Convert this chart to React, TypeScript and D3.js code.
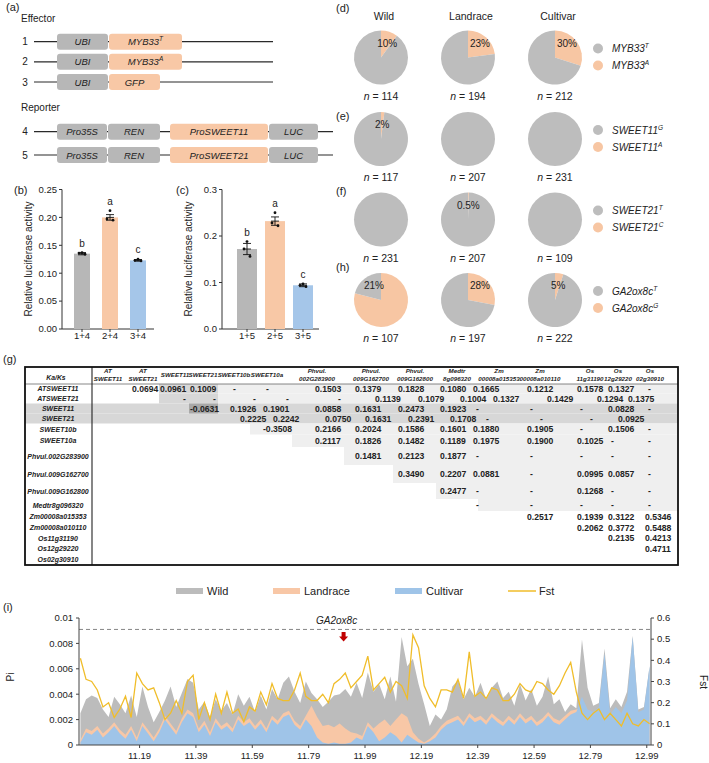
import React from "react";
import * as d3 from "d3";

const FONT = "'Liberation Sans', Arial, Helvetica, sans-serif";
const GRAY_BOX = "#b7b7b7";
const PEACH = "#f8c8a6";
const BLUE = "#a5c6e9";
const PIE_GRAY = "#bdbdbd";
const PIE_PEACH = "#f7c6a3";
const TXT = "#222";

// ---------- (a) constructs
const effectorNums = ["1", "2", "3"];
const effectorGenes = ["MYB33", "MYB33", "GFP"];
const effectorSups = ["T", "A", ""];
const reporterNums = ["4", "5"];
const reporterPromoters = ["ProSWEET11", "ProSWEET21"];

// ---------- (b) luciferase, reporter SWEET11
const bGroups = ["1+4", "2+4", "3+4"];
const bMeans = [0.135, 0.2, 0.123];
const bErr = [0.002, 0.005, 0.0015];
const bDots = [[0.137, 0.136, 0.134], [0.212, 0.197, 0.195], [0.125, 0.123, 0.122]];
const bLetters = ["b", "a", "c"];
const bTicks = [0, 0.05, 0.1, 0.15, 0.2, 0.25];

// ---------- (c) luciferase, reporter SWEET21
const cGroups = ["1+5", "2+5", "3+5"];
const cMeans = [0.172, 0.232, 0.094];
const cErr = [0.012, 0.009, 0.003];
const cDots = [[0.188, 0.172, 0.156], [0.25, 0.228, 0.222], [0.097, 0.094, 0.091]];
const cLetters = ["b", "a", "c"];
const cTicks = [0, 0.1, 0.2, 0.3];

// ---------- (d)(e)(f)(h) pies
const pieGroups = ["Wild", "Landrace", "Cultivar"];
const piePanelLabels = ["(d)", "(e)", "(f)", "(h)"];
const pieGenes = ["MYB33", "SWEET11", "SWEET21", "GA2ox8c"];
const pieAlleleMajor = ["T", "G", "T", "T"];
const pieAlleleMinor = ["A", "A", "C", "G"];
const pieMinorShare = [
  [0.1, 0.23, 0.3],
  [0.02, 0, 0],
  [0, 0.005, 0],
  [0.79, 0.28, 0.05],
];
const piePercentLabels = [
  ["10%", "23%", "30%"],
  ["2%", "", ""],
  ["", "0.5%", ""],
  ["21%", "28%", "5%"],
];
const pieN = [
  [114, 194, 212],
  [117, 207, 231],
  [231, 207, 109],
  [107, 197, 222],
];

// ---------- (g) Ka/Ks table
const kaksRows = [
  "ATSWEET11", "ATSWEET21", "SWEET11", "SWEET21", "SWEET10b", "SWEET10a",
  "Phvul.002G283900", "Phvul.009G162700", "Phvul.009G162800", "Medtr8g096320",
  "Zm00008a015353", "Zm00008a010110", "Os11g31190", "Os12g29220", "Os02g30910",
];
const kaksColTop = ["AT", "AT", "", "", "", "", "Phvul.", "Phvul.", "Phvul.", "Medtr", "Zm", "Zm", "Os", "Os", "Os"];
const kaksColBottom = [
  "SWEET11", "SWEET21", "SWEET11", "SWEET21", "SWEET10b", "SWEET10a",
  "002G283900", "009G162700", "009G162800", "8g096320", "00008a015353",
  "00008a010110", "11g31190", "12g29220", "02g30910",
];
// each row starts at column (rowIndex + 1)
const kaksValues = [
  ["0.0694", "0.0961", "0.1009", "-", "-", "0.1503", "0.1379", "0.1828", "0.1080", "0.1665", "0.1212", "0.1578", "0.1327", "-"],
  ["-", "-", "-", "-", "-", "0.1139", "0.1079", "0.1004", "0.1327", "0.1429", "0.1294", "0.1375", ""],
  ["-0.0631", "0.1926", "0.1901", "0.0858", "0.1631", "0.2473", "0.1923", "-", "-", "-", "0.0828", "-"],
  ["0.2225", "0.2242", "0.0750", "0.1631", "0.2391", "0.1708", "-", "-", "-", "0.0925", ""],
  ["-0.3508", "0.2166", "0.2024", "0.1586", "0.1601", "0.1880", "0.1905", "-", "0.1506", "-"],
  ["0.2117", "0.1826", "0.1482", "0.1189", "0.1975", "0.1900", "0.1025", "-", "-"],
  ["0.1481", "0.2123", "0.1877", "-", "-", "-", "-", "-"],
  ["0.3490", "0.2207", "0.0881", "-", "0.0995", "0.0857", "-"],
  ["0.2477", "-", "-", "0.1268", "-", "-"],
  ["-", "-", "-", "-", "-"],
  ["0.2517", "0.1939", "0.3122", "0.5346"],
  ["0.2062", "0.3772", "0.5488"],
  ["0.2135", "0.4213"],
  ["0.4711"],
  [],
];

// ---------- (i) nucleotide diversity and Fst along chromosome (Mb)
const piWindowStart = 10.98;
const piWindowStep = 0.02;
const wildPiE3 = [
  2.5, 3.6, 3.9, 3.7, 2.8, 2.2, 3.8, 3.2, 2.5, 3.9,
  2.2, 4.6, 3.0, 1.8, 2.6, 3.5, 4.6, 3.0, 4.1, 5.2,
  4.9, 2.8, 3.4, 2.2, 3.6, 2.7, 3.3, 2.4, 4.0, 3.1,
  3.8, 2.6, 3.9, 2.8, 4.4, 3.6, 4.9, 5.4, 4.2, 3.3,
  5.0, 4.1, 3.6, 3.0, 3.4, 3.9, 4.0, 4.4, 3.8, 4.9,
  3.7, 5.7, 4.2, 4.8, 3.6, 5.4, 3.4, 8.5, 6.2, 6.8,
  4.8, 3.2, 1.5, 2.4, 2.0, 2.8, 4.6, 5.1, 3.6, 4.5,
  3.8, 4.9, 3.6, 4.5, 5.0, 3.7, 4.2, 3.1, 4.8, 3.5,
  4.4, 3.1, 3.8, 5.4, 3.2, 3.6, 2.6, 3.2, 2.9, 8.3,
  4.5, 3.1, 3.3, 7.6, 2.9, 3.6, 3.0, 4.2, 8.6, 2.8,
  3.0, 6.2,
];
const landracePiE3 = [
  0.4, 1.3, 1.1, 1.5, 0.9, 1.3, 1.8, 1.2, 0.8, 1.5,
  0.6, 1.8, 1.2, 0.6, 1.3, 2.3, 1.7, 1.1, 2.1, 2.8,
  2.5, 1.3, 1.9, 1.0, 2.1, 1.5, 1.8, 1.3, 2.3, 1.8,
  2.1, 1.5, 2.0, 1.3, 2.3, 1.9, 2.5, 2.7, 1.9, 1.5,
  2.3, 3.1, 2.2, 1.5, 1.6, 1.4, 1.7, 1.3, 1.0, 0.9,
  0.7, 1.8, 1.3, 1.7, 2.0, 1.5, 2.0, 2.5, 2.2, 1.0,
  0.5, 0.2, 0.5, 0.9, 1.5, 1.9, 2.1, 2.3, 1.8, 2.5,
  2.1, 2.3, 1.9, 2.5, 2.1, 1.8, 2.3, 1.9, 2.5, 2.0,
  2.3, 1.8, 2.1, 2.6, 2.1, 1.9, 2.3, 2.7, 2.8, 3.0,
  2.4, 2.2, 2.5, 3.0, 2.0, 2.4, 2.0, 2.5, 2.2, 1.8,
  2.0, 2.2,
];
const cultivarPiE3 = [
  0.2, 1.0, 0.8, 1.2, 0.6, 1.0, 1.5, 0.9, 0.5, 1.2,
  0.3, 1.5, 0.9, 0.3, 1.0, 2.0, 1.4, 0.8, 1.8, 2.5,
  2.2, 1.0, 1.6, 0.7, 1.8, 1.2, 1.5, 1.0, 2.0, 1.5,
  1.8, 1.2, 1.7, 1.0, 2.0, 1.6, 2.2, 2.4, 1.6, 1.2,
  2.0, 1.5, 0.6, 0.2, 0.1, 0.2, 0.1, 0.1, 0.2, 0.6,
  0.4, 1.5, 1.0, 0.3, 0.6, 1.0, 0.7, 0.2, 0.8, 0.5,
  0.2, 0.1, 0.3, 0.6, 1.2, 1.6, 1.8, 2.0, 1.5, 2.2,
  1.8, 2.0, 1.6, 2.2, 1.8, 1.5, 2.0, 1.6, 2.2, 1.7,
  2.0, 1.5, 1.8, 2.3, 1.8, 1.6, 2.0, 2.4, 2.6, 3.8,
  2.8, 2.6, 3.0, 7.2, 2.4, 3.0, 2.5, 3.5, 8.5, 2.6,
  2.8, 6.2,
];
const fstValues = [
  0.41, 0.31, 0.30, 0.26, 0.18, 0.20, 0.13, 0.17, 0.23, 0.13,
  0.34, 0.29, 0.26, 0.27, 0.20, 0.12, 0.15, 0.21, 0.15, 0.30,
  0.33, 0.12, 0.20, 0.12, 0.24, 0.15, 0.25, 0.15, 0.17, 0.11,
  0.18, 0.16, 0.25, 0.19, 0.29, 0.22, 0.21, 0.21, 0.26, 0.34,
  0.23, 0.21, 0.21, 0.24, 0.20, 0.29, 0.31, 0.34, 0.27, 0.30,
  0.33, 0.42, 0.26, 0.29, 0.32, 0.25, 0.30, 0.28, 0.22, 0.52,
  0.46, 0.28, 0.22, 0.18, 0.26, 0.26, 0.25, 0.31, 0.22, 0.44,
  0.23, 0.25, 0.22, 0.27, 0.26, 0.21, 0.21, 0.24, 0.29, 0.26,
  0.25, 0.30, 0.29, 0.26, 0.24, 0.28, 0.34, 0.39, 0.25, 0.15,
  0.12, 0.15, 0.17, 0.12, 0.15, 0.12, 0.09, 0.15, 0.10, 0.09,
  0.12, 0.10,
];
const piXTicks = [11.19, 11.39, 11.59, 11.79, 11.99, 12.19, 12.39, 12.59, 12.79, 12.99];
const piYTicksE3 = [0, 2, 4, 6, 8, 10];
const fstTicks = [0, 0.1, 0.2, 0.3, 0.4, 0.5, 0.6];
const thresholdE3 = 9.1;
const geneMarkName = "GA2ox8c";
const geneMarkPos = 11.914;
const piLegend = ["Wild", "Landrace", "Cultivar", "Fst"];

// ===================================================================

function Sup({ base, sup, supSize = 6.5 }: any) {
  return (
    <>
      {base}
      {sup ? (
        <tspan dy={-4} fontSize={supSize}>
          {sup}
        </tspan>
      ) : null}
    </>
  );
}

function GeneBox({ x, y, w, label, sup, fill }: any) {
  return (
    <g>
      <rect x={x} y={y - 8} width={w} height={16} rx={3} fill={fill} />
      <text x={x + w / 2} y={y + 3.5} textAnchor="middle" fontSize={9.5} fontStyle="italic" fill={TXT}>
        <Sup base={label} sup={sup} />
      </text>
    </g>
  );
}

function PanelA() {
  const effY = d3.scalePoint<string>().domain(effectorNums).range([41.7, 82]);
  const repY = d3.scalePoint<string>().domain(reporterNums).range([131.7, 155]);
  return (
    <g>
      <text x={6} y={11} fontSize={11} fill={TXT}>(a)</text>
      <text x={21} y={22} fontSize={10} fill={TXT}>Effector</text>
      {effectorNums.map((n, i) => {
        const y = effY(n)!;
        const gw = effectorGenes[i] === "GFP" ? 51 : 73;
        return (
          <g key={n}>
            <text x={25} y={y + 3.5} textAnchor="middle" fontSize={10} fill={TXT}>{n}</text>
            <line x1={34} x2={273} y1={y} y2={y} stroke="#2a2a2a" strokeWidth={1.2} />
            <GeneBox x={57} y={y} w={51} label="UBI" fill={GRAY_BOX} />
            <GeneBox x={109} y={y} w={gw} label={effectorGenes[i]} sup={effectorSups[i]} fill={PEACH} />
          </g>
        );
      })}
      <text x={21} y={111} fontSize={10} fill={TXT}>Reporter</text>
      {reporterNums.map((n, i) => {
        const y = repY(n)!;
        return (
          <g key={n}>
            <text x={25} y={y + 3.5} textAnchor="middle" fontSize={10} fill={TXT}>{n}</text>
            <line x1={34} x2={333} y1={y} y2={y} stroke="#2a2a2a" strokeWidth={1.2} />
            <GeneBox x={57} y={y} w={50} label="Pro35S" fill={GRAY_BOX} />
            <GeneBox x={108} y={y} w={52} label="REN" fill={GRAY_BOX} />
            <GeneBox x={170} y={y} w={98} label={reporterPromoters[i]} fill={PEACH} />
            <GeneBox x={269} y={y} w={49} label="LUC" fill={GRAY_BOX} />
          </g>
        );
      })}
    </g>
  );
}

function BarPanel({ label, labelX, axisX, groups, means, errs, dots, letters, yMax, ticks, fmt, xRange, barW, axisEnd }: any) {
  const yy = d3.scaleLinear().domain([0, yMax]).range([329, 189.5]);
  const x = d3.scalePoint<string>().domain(groups).range(xRange).padding(0.5);
  const colors = [GRAY_BOX, PEACH, BLUE];
  const jitter = [0, -3, 3];
  return (
    <g>
      <text x={labelX} y={194} fontSize={11} fill={TXT}>{label}</text>
      <line x1={axisX} x2={axisX} y1={yy(yMax)} y2={329} stroke="#333" strokeWidth={1} />
      <line x1={axisX} x2={axisEnd} y1={329} y2={329} stroke="#333" strokeWidth={1} />
      {ticks.map((t: number) => (
        <g key={t}>
          <line x1={axisX - 3} x2={axisX} y1={yy(t)} y2={yy(t)} stroke="#333" />
          <text x={axisX - 5} y={yy(t) + 3.3} textAnchor="end" fontSize={9.5} fill={TXT}>{fmt(t)}</text>
        </g>
      ))}
      <text transform={`translate(${axisX - 30},${259}) rotate(-90)`} textAnchor="middle" fontSize={10} fill={TXT}>
        Relative luciferase activity
      </text>
      {groups.map((g: string, i: number) => {
        const cx = x(g)!;
        const top = Math.max(means[i] + errs[i], ...dots[i]);
        return (
          <g key={g}>
            <rect x={cx - barW / 2} y={yy(means[i])} width={barW} height={329 - yy(means[i])} fill={colors[i]} />
            <line x1={cx} x2={cx} y1={yy(means[i] - errs[i])} y2={yy(means[i] + errs[i])} stroke="#111" strokeWidth={0.9} />
            <line x1={cx - 4} x2={cx + 4} y1={yy(means[i] + errs[i])} y2={yy(means[i] + errs[i])} stroke="#111" strokeWidth={0.9} />
            <line x1={cx - 4} x2={cx + 4} y1={yy(means[i] - errs[i])} y2={yy(means[i] - errs[i])} stroke="#111" strokeWidth={0.9} />
            <line x1={cx - 4} x2={cx + 4} y1={yy(means[i])} y2={yy(means[i])} stroke="#111" strokeWidth={0.9} />
            {dots[i].map((d: number, k: number) => (
              <circle key={k} cx={cx + jitter[k]} cy={yy(d)} r={1.4} fill="#111" />
            ))}
            <text x={cx} y={yy(top) - 6} textAnchor="middle" fontSize={10} fill={TXT}>{letters[i]}</text>
            <line x1={cx} x2={cx} y1={329} y2={332} stroke="#333" />
            <text x={cx} y={339} textAnchor="middle" fontSize={9.5} fill={TXT}>{g}</text>
          </g>
        );
      })}
    </g>
  );
}

function PiePanels() {
  const colX = d3.scalePoint<string>().domain(pieGroups).range([381, 555]);
  const rowY = [57.5, 139, 219.5, 300];
  const labelY = [12, 120, 195, 271];
  const r = 27;
  const arc = d3.arc<any>().innerRadius(0).outerRadius(r);
  const pie = d3.pie<number>().sort(null).value((d) => d);
  return (
    <g>
      {pieGroups.map((g) => (
        <text key={g} x={colX(g)! + 3} y={19.5} textAnchor="middle" fontSize={10.5} fill={TXT}>{g}</text>
      ))}
      {pieGenes.map((gene, ri) => {
        const cy = rowY[ri];
        return (
          <g key={gene}>
            <text x={336} y={labelY[ri]} fontSize={11} fill={TXT}>{piePanelLabels[ri]}</text>
            {pieGroups.map((g, ci) => {
              const cx = colX(g)!;
              const s = pieMinorShare[ri][ci];
              const arcs = pie([s, 1 - s]);
              const ang = s <= 0.5 ? Math.PI * s : Math.PI * (1 + s);
              const dx = Math.max(-7, Math.min(12, Math.sin(ang) * 20));
              return (
                <g key={g}>
                  <g transform={`translate(${cx},${cy})`}>
                    {arcs.map((a, k) =>
                      a.endAngle - a.startAngle > 0 ? (
                        <path key={k} d={arc(a) as string} fill={k === 0 ? PIE_PEACH : PIE_GRAY} />
                      ) : null
                    )}
                  </g>
                  {piePercentLabels[ri][ci] ? (
                    <text x={cx + dx} y={cy - 11} textAnchor="middle" fontSize={10} fill={TXT}>
                      {piePercentLabels[ri][ci]}
                    </text>
                  ) : null}
                  <text x={cx} y={cy + 42} textAnchor="middle" fontSize={10.5} fill={TXT}>
                    <tspan fontStyle="italic">n</tspan> = {pieN[ri][ci]}
                  </text>
                </g>
              );
            })}
            <circle cx={598} cy={cy - 9} r={5} fill={PIE_GRAY} />
            <circle cx={598} cy={cy + 8} r={5} fill={PIE_PEACH} />
            <text x={612} y={cy - 5.5} fontSize={10} fontStyle="italic" fill={TXT}>
              <Sup base={gene} sup={pieAlleleMajor[ri]} supSize={6.5} />
            </text>
            <text x={612} y={cy + 11.5} fontSize={10} fontStyle="italic" fill={TXT}>
              <Sup base={gene} sup={pieAlleleMinor[ri]} supSize={6.5} />
            </text>
          </g>
        );
      })}
    </g>
  );
}

const colEdge = [92, 125, 159, 189, 218, 250, 292, 344, 393, 436, 478, 520, 565, 604, 634, 678];
const headerCX = [108, 143, 175, 203, 234, 267, 317, 371, 415, 457, 499, 540, 590, 618, 650];
const valueX = [0, 132, 160, 190, 230, 263, 315, 355, 398, 440, 473, 527, 577, 608, 645];
const rowH = [9.5, 10, 10, 10, 11, 12.5, 18, 18, 16, 12, 11.5, 10.5, 10.5, 10.5, 11];
const rowShift = [0, 20, 0, 10, 0, 0, 0, 0, 0, 0, 0, 0, 0, 0, 0];

function KaKsTable() {
  const top = 367;
  const headBottom = 384;
  const left = 25;
  const right = 678;
  const LIGHT = "#efefef";
  const MED = "#d7d7d7";
  const DARK = "#a8a8a8";
  const rowTops: number[] = [];
  let acc = headBottom;
  rowH.forEach((h) => {
    rowTops.push(acc);
    acc += h;
  });
  const bottom = acc;
  const bgs: any[] = [];
  kaksRows.forEach((_, i) => {
    const y = rowTops[i];
    const h = rowH[i];
    if (i <= 1) {
      bgs.push(<rect key={`m${i}`} x={colEdge[2]} y={y} width={colEdge[4] - colEdge[2]} height={h} fill={MED} />);
      bgs.push(<rect key={`l${i}`} x={colEdge[4]} y={y} width={right - colEdge[4]} height={h} fill={LIGHT} />);
    } else if (i <= 3) {
      bgs.push(<rect key={`m${i}`} x={left} y={y} width={right - left} height={h} fill={MED} />);
    } else if (i <= 9) {
      bgs.push(<rect key={`l${i}`} x={colEdge[i + 1]} y={y} width={right - colEdge[i + 1]} height={h} fill={LIGHT} />);
    }
  });
  bgs.push(<rect key="dark" x={colEdge[3]} y={rowTops[2]} width={colEdge[4] - colEdge[3]} height={rowH[2]} fill={DARK} />);

  return (
    <g>
      <text x={3} y={363} fontSize={11} fill={TXT}>(g)</text>
      {bgs}
      <line x1={left} x2={right} y1={headBottom} y2={headBottom} stroke="#555" strokeWidth={0.7} />
      <line x1={colEdge[0]} x2={colEdge[0]} y1={top} y2={bottom} stroke="#222" strokeWidth={1.1} />
      <rect x={left} y={top} width={right - left} height={bottom - top} fill="none" stroke="#111" strokeWidth={1.8} />
      <text x={56} y={380} textAnchor="middle" fontSize={6.8} fontWeight="bold" fontStyle="italic" fill={TXT}>Ka/Ks</text>
      {kaksColBottom.map((b, c) => (
        <g key={c}>
          {kaksColTop[c] ? (
            <>
              <text x={headerCX[c]} y={372.5} textAnchor="middle" fontSize={6.2} fontWeight="bold" fontStyle="italic" fill={TXT}>{kaksColTop[c]}</text>
              <text x={headerCX[c]} y={380.5} textAnchor="middle" fontSize={6.2} fontWeight="bold" fontStyle="italic" fill={TXT}>{b}</text>
            </>
          ) : (
            <text x={headerCX[c]} y={376.5} textAnchor="middle" fontSize={6.2} fontWeight="bold" fontStyle="italic" fill={TXT}>{b}</text>
          )}
        </g>
      ))}
      {kaksRows.map((name, i) => (
        <text key={name} x={58} y={rowTops[i] + rowH[i] / 2 + 2.5} textAnchor="middle" fontSize={7} fontWeight="bold" fontStyle="italic" fill={TXT}>
          {name}
        </text>
      ))}
      {kaksValues.map((vals, i) =>
        vals.map((v, k) => {
          if (!v) return null;
          const c = i + 1 + k;
          const x = valueX[c] + rowShift[i] + (v === "-" ? 3 : 0);
          return (
            <text key={`${i}-${k}`} x={x} y={rowTops[i] + rowH[i] / 2 + 3.1} fontSize={8.6} fontWeight="bold" fill={TXT}>
              {v}
            </text>
          );
        })
      )}
    </g>
  );
}

function PiPanel() {
  const x0 = 79, x1 = 651, y0 = 745, y1 = 618;
  const positions = wildPiE3.map((_, i) => piWindowStart + i * piWindowStep);
  const x = d3.scaleLinear().domain([10.975, 13.005]).range([x0, x1]);
  const yPi = d3.scaleLinear().domain([0, 10]).range([y0, y1]);
  const yF = d3.scaleLinear().domain([0, 0.6]).range([y0, y1]);
  const area = d3
    .area<number>()
    .x((_, i) => x(positions[i]))
    .y0(y0)
    .y1((d) => yPi(d));
  const line = d3
    .line<number>()
    .x((_, i) => x(positions[i]))
    .y((d) => yF(d));
  const legendX = [176, 273, 395, 508];
  const legendColors = ["#bcbcbc", "#f8c7a6", "#9fc4e8", "#f0bd2a"];
  const ax = x(geneMarkPos);
  return (
    <g>
      {piLegend.map((l, i) => (
        <g key={l}>
          {i < 3 ? (
            <rect x={legendX[i]} y={588} width={27} height={6} fill={legendColors[i]} />
          ) : (
            <line x1={legendX[i]} x2={legendX[i] + 28} y1={591} y2={591} stroke={legendColors[i]} strokeWidth={1.5} />
          )}
          <text x={legendX[i] + 31} y={595} fontSize={11} fill={TXT}>{l}</text>
        </g>
      ))}
      <text x={3} y={611} fontSize={11} fill={TXT}>(i)</text>
      <defs>
        <clipPath id="piclip">
          <rect x={x0} y={y1 - 2} width={x1 - x0} height={y0 - y1 + 2} />
        </clipPath>
      </defs>
      <g clipPath="url(#piclip)">
        <path d={area(wildPiE3) as string} fill="#bcbcbc" />
        <path d={area(landracePiE3) as string} fill="#f8c7a6" />
        <path d={area(cultivarPiE3) as string} fill="#9fc4e8" />
        <path d={line(fstValues) as string} fill="none" stroke="#f0bd2a" strokeWidth={1.3} />
      </g>
      <line x1={x0} x2={x1} y1={yPi(thresholdE3)} y2={yPi(thresholdE3)} stroke="#777" strokeWidth={0.9} strokeDasharray="4,3" />
      <text x={ax - 7} y={624} textAnchor="middle" fontSize={10} fontStyle="italic" fill={TXT}>{geneMarkName}</text>
      <rect x={ax - 2} y={632} width={4} height={5} fill="#c00000" />
      <path d={`M${ax - 4.5},636.5 L${ax + 4.5},636.5 L${ax},641.5 Z`} fill="#c00000" />
      <line x1={x0} x2={x0} y1={y1} y2={y0} stroke="#444" />
      <line x1={x1} x2={x1} y1={y1} y2={y0} stroke="#444" />
      <line x1={x0} x2={x1} y1={y0} y2={y0} stroke="#444" />
      {piYTicksE3.map((t) => (
        <g key={t}>
          <line x1={x0 - 3} x2={x0} y1={yPi(t)} y2={yPi(t)} stroke="#444" />
          <text x={x0 - 6} y={yPi(t) + 3.3} textAnchor="end" fontSize={9.5} fill={TXT}>
            {t === 0 ? "0" : String(+(t / 1000).toFixed(3))}
          </text>
        </g>
      ))}
      {fstTicks.map((t) => (
        <g key={t}>
          <line x1={x1} x2={x1 + 3} y1={yF(t)} y2={yF(t)} stroke="#444" />
          <text x={x1 + 6} y={yF(t) + 3.3} fontSize={9.5} fill={TXT}>{t === 0 ? "0" : t.toFixed(1)}</text>
        </g>
      ))}
      {piXTicks.map((t) => (
        <g key={t}>
          <line x1={x(t)} x2={x(t)} y1={y0} y2={y0 + 3} stroke="#444" />
          <text x={x(t)} y={759} textAnchor="middle" fontSize={9.5} fill={TXT}>{t.toFixed(2)}</text>
        </g>
      ))}
      <text transform={`translate(14,677) rotate(-90)`} textAnchor="middle" fontSize={10} fill={TXT}>Pi</text>
      <text transform={`translate(700,682) rotate(90)`} textAnchor="middle" fontSize={10} fill={TXT}>Fst</text>
    </g>
  );
}

export default function App() {
  return (
    <svg
      width={709}
      height={763}
      viewBox="0 0 709 763"
      style={{ position: "absolute", left: 0, top: 0, fontFamily: FONT, background: "#fff" }}
    >
      <rect width={709} height={763} fill="#fff" />
      <PanelA />
      <BarPanel
        label="(b)"
        labelX={14}
        axisX={62}
        groups={bGroups}
        means={bMeans}
        errs={bErr}
        dots={bDots}
        letters={bLetters}
        yMax={0.25}
        ticks={bTicks}
        fmt={(t: number) => t.toFixed(2)}
        xRange={[68, 152]}
        barW={16}
        axisEnd={154}
      />
      <BarPanel
        label="(c)"
        labelX={176}
        axisX={222}
        groups={cGroups}
        means={cMeans}
        errs={cErr}
        dots={cDots}
        letters={cLetters}
        yMax={0.3}
        ticks={cTicks}
        fmt={(t: number) => t.toFixed(1)}
        xRange={[233, 317]}
        barW={20}
        axisEnd={319}
      />
      <PiePanels />
      <KaKsTable />
      <PiPanel />
    </svg>
  );
}
